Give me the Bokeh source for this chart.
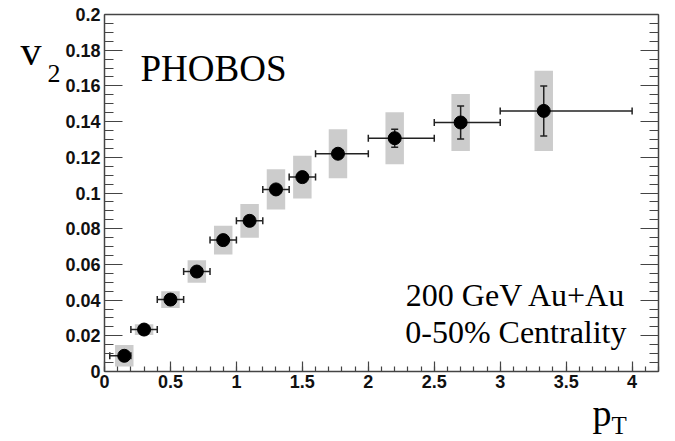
import numpy as np
from bokeh.plotting import figure
from bokeh.models import Range1d, FixedTicker, LinearAxis, Label
from bokeh.embed import file_html
from bokeh.resources import INLINE

# ---- data ----
pt      = [0.15, 0.30, 0.50, 0.70, 0.90, 1.10, 1.30, 1.50, 1.77, 2.20, 2.70, 3.33]
v2      = [0.0088, 0.0235, 0.0403, 0.0560, 0.0736, 0.0844, 0.1020, 0.1089, 0.1220, 0.1307, 0.1395, 0.1460]
pt_lo   = [0.04, 0.20, 0.40, 0.60, 0.80, 1.00, 1.20, 1.40, 1.60, 2.00, 2.50, 3.00]
pt_hi   = [0.20, 0.40, 0.60, 0.80, 1.00, 1.20, 1.40, 1.60, 2.00, 2.50, 3.00, 4.00]
stat    = [0.001, 0.001, 0.001, 0.001, 0.001, 0.001, 0.001, 0.001, 0.002, 0.005, 0.0092, 0.014]
syst    = [0.006, 0.003, 0.0047, 0.0063, 0.008, 0.0095, 0.0113, 0.012, 0.0137, 0.0146, 0.016, 0.0225]

x_ticks = [0, 0.5, 1, 1.5, 2, 2.5, 3, 3.5, 4]
x_tick_labels = ["0", "0.5", "1", "1.5", "2", "2.5", "3", "3.5", "4"]
y_ticks = [0, 0.02, 0.04, 0.06, 0.08, 0.1, 0.12, 0.14, 0.16, 0.18, 0.2]
y_tick_labels = ["0", "0.02", "0.04", "0.06", "0.08", "0.1", "0.12", "0.14", "0.16", "0.18", "0.2"]

X_MIN, X_MAX = 0.0, 4.2
Y_MIN, Y_MAX = 0.0, 0.2

BOX_HALF = 0.07
AX_COL = "#444444"
ERR_COL = "#222222"

W, H = 660, 441
# pixel placement of the plotting box on the canvas
FL, FR, FT, FB = 104, 658, 14, 371
kx = (FR - FL) / (X_MAX - X_MIN)
ky = (FB - FT) / (Y_MAX - Y_MIN)

pt_a = np.array(pt); v2_a = np.array(v2)
stat_a = np.array(stat); syst_a = np.array(syst)

p = figure(width=W, height=H, output_backend="svg", toolbar_location=None,
           x_range=Range1d(X_MIN - FL / kx, X_MAX + (W - FR) / kx),
           y_range=Range1d(Y_MIN - (H - FB) / ky, Y_MAX + FT / ky),
           x_axis_type=None, y_axis_type=None, min_border=0)
p.background_fill_color = "white"
p.border_fill_color = "white"
p.outline_line_color = None

xt = FixedTicker(ticks=x_ticks, minor_ticks=list(np.round(np.arange(0, 4.21, 0.1), 3)))
yt = FixedTicker(ticks=y_ticks, minor_ticks=list(np.round(np.arange(0, 0.2001, 0.005), 4)))


def style(ax):
    ax.axis_line_color = AX_COL; ax.axis_line_width = 1.5
    ax.major_tick_line_color = AX_COL; ax.minor_tick_line_color = AX_COL
    ax.major_tick_line_width = 1.2; ax.minor_tick_line_width = 1.2
    ax.major_tick_out = 0; ax.minor_tick_out = 0
    ax.major_label_text_font = "Liberation Sans"
    ax.major_label_text_font_style = "bold"
    ax.major_label_text_font_size = "18px"
    ax.major_label_text_color = "#111111"


xa = LinearAxis(ticker=xt, fixed_location=Y_MIN, bounds=(X_MIN, X_MAX))
style(xa)
xa.major_label_overrides = {t: l for t, l in zip(x_ticks, x_tick_labels)}
xa.major_tick_in = 10; xa.minor_tick_in = 5
xa.major_label_standoff = 3
p.add_layout(xa, "below")

ya = LinearAxis(ticker=yt, fixed_location=X_MIN, bounds=(Y_MIN, Y_MAX))
style(ya)
ya.major_label_overrides = {t: l for t, l in zip(y_ticks, y_tick_labels)}
ya.major_tick_in = 18; ya.minor_tick_in = 9
ya.major_label_standoff = 4
p.add_layout(ya, "left")

ra = LinearAxis(ticker=yt, fixed_location=X_MAX, bounds=(Y_MIN, Y_MAX))
style(ra)
ra.major_label_overrides = {t: "" for t in y_ticks}
ra.major_tick_in = 18; ra.minor_tick_in = 9
ra.major_label_standoff = 0
p.add_layout(ra, "right")

ta = LinearAxis(ticker=FixedTicker(ticks=[]), fixed_location=Y_MAX, bounds=(X_MIN, X_MAX))
style(ta)
ta.major_tick_in = 0; ta.minor_tick_in = 0
p.add_layout(ta, "above")

# systematic boxes
p.quad(left=pt_a - BOX_HALF, right=pt_a + BOX_HALF, bottom=v2_a - syst_a, top=v2_a + syst_a,
       fill_color="#cccccc", line_color=None)

# horizontal bin bars
p.segment(x0=pt_lo, y0=v2, x1=pt_hi, y1=v2, line_color=ERR_COL, line_width=1.5)
p.scatter(x=pt_lo + pt_hi, y=v2 + v2, marker="dash", angle=np.pi / 2, size=7,
          line_color=ERR_COL, line_width=1.5)

# vertical stat errors
p.segment(x0=pt, y0=v2_a - stat_a, x1=pt, y1=v2_a + stat_a, line_color=ERR_COL, line_width=1.5)
p.scatter(x=pt + pt, y=list(v2_a - stat_a) + list(v2_a + stat_a), marker="dash", size=7,
          line_color=ERR_COL, line_width=1.5)

# points
p.scatter(x=pt, y=v2, size=13, fill_color="black", line_color="black")


def lab(px, py, text, size, align="left"):
    # px, py: target canvas pixel position of the text (left/right edge, baseline);
    # Bokeh places the "alphabetic" anchor about 0.37 em above the glyph baseline
    yy = py - 0.37 * size
    p.add_layout(Label(x=X_MIN + (px - FL) / kx, y=Y_MIN + (FB - yy) / ky, text=text,
                       text_font="Liberation Serif", text_font_size=f"{size}px",
                       text_align=align, text_baseline="alphabetic", text_color="black"))


lab(20, 66, "v", 42)
lab(47, 83, "2", 26)
lab(140, 82, "PHOBOS", 37)
lab(626, 306, "200 GeV Au+Au", 32, "right")
lab(626, 343, "0-50% Centrality", 32, "right")
lab(592, 427, "p", 38)
lab(611, 434, "T", 25)

open("out.html", "w").write(file_html(p, INLINE))
